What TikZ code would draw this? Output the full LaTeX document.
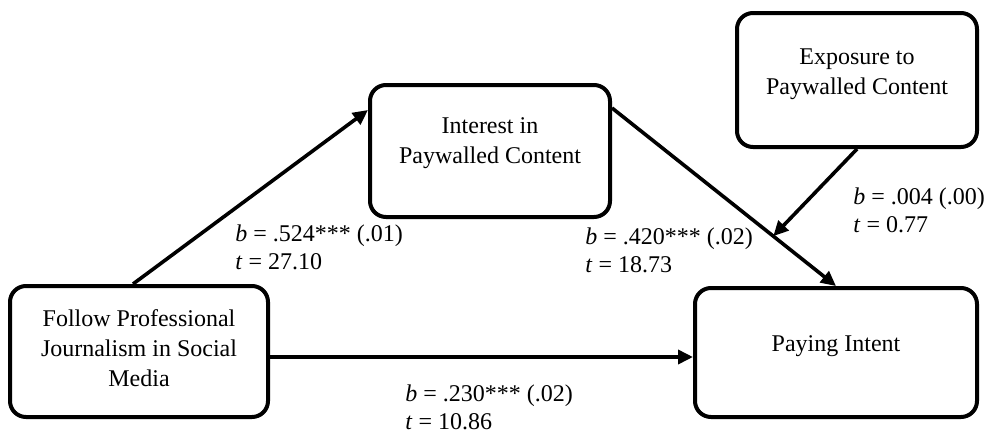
\documentclass[tikz,border=0pt]{standalone}
\usepackage{fontspec}
\setmainfont{Liberation Serif}
\usetikzlibrary{calc, arrows.meta, positioning}

\newcommand{\liftup}[2]{\raisebox{#1}[\height][\depth]{\begin{tabular}{@{}c@{}}#2\end{tabular}}}

\begin{document}
\begin{tikzpicture}[x=0.5pt, y=-0.5pt, >={Triangle[length=7.5pt, width=7pt]},
    box/.style={draw, line width=2pt, rounded corners=8pt, inner sep=0pt, font=\fontsize{12}{15}\selectfont},
    coef/.style={align=left, anchor=west, inner sep=0pt, font=\fontsize{12}{14}\selectfont},
    link/.style={->, line width=1.8pt}]

        \useasboundingbox (0,0) rectangle (991,434);

        % Boxes of the model
        \node (follow) [box, minimum width=129pt, minimum height=65.5pt] at (139,351.5) {\liftup{0.5pt}{Follow Professional\\Journalism in Social\\Media}};
        \node (interest) [box, minimum width=120pt, minimum height=66pt] at (490,151) {\liftup{4.5pt}{Interest in\\Paywalled Content}};
        \node (exposure) [box, minimum width=120pt, minimum height=67pt] at (857,80) {\liftup{3.2pt}{Exposure to\\Paywalled Content}};
        \node (paying) [box, minimum width=141pt, minimum height=64.5pt] at (836,352.5) {\liftup{3.7pt}{Paying Intent}};

        % Paths
        \draw[link] ([xshift=-3pt]follow.north) -- ([yshift=20.5pt]interest.west);
        \draw[link] ([yshift=21.5pt]interest.east) -- coordinate[pos=0.72] (meet) (paying.north);
        \draw[link] (exposure.south) -- (meet);
        \draw[link] ([yshift=-2.75pt]follow.east) -- ([yshift=-2.75pt]follow.east -| paying.west);

        % Coefficients
        \node (coefA) [coef] at (235,247) {\textit{b} = .524*** (.01)\\\textit{t} = 27.10};
        \node (coefB) [coef] at (585,250) {\textit{b} = .420*** (.02)\\\textit{t} = 18.73};
        \node (coefC) [coef] at (853,210) {\textit{b} = .004 (.00)\\\textit{t} = 0.77};
        \node (coefD) [coef] at (405,407) {\textit{b} = .230*** (.02)\\\textit{t} = 10.86};

\end{tikzpicture}
\end{document}
